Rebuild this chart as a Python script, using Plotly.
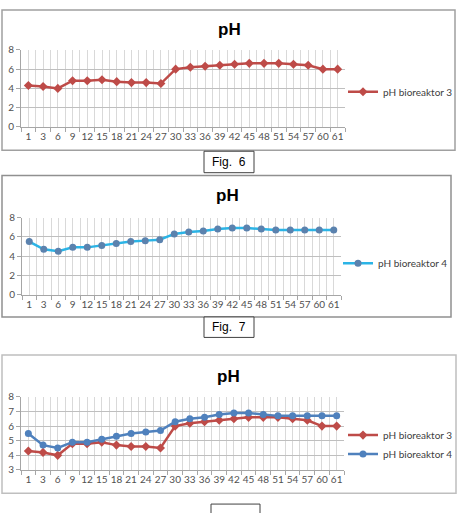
import plotly.graph_objects as go

days = ["1", "3", "6", "9", "12", "15", "18", "21", "24", "27", "30", "33",
        "36", "39", "42", "45", "48", "51", "54", "57", "60", "61"]
ph_bio3 = [4.3, 4.2, 4.0, 4.8, 4.8, 4.9, 4.7, 4.6, 4.6, 4.5, 6.0, 6.2,
           6.3, 6.4, 6.5, 6.6, 6.6, 6.6, 6.5, 6.4, 6.0, 6.0]
ph_bio4 = [5.5, 4.7, 4.5, 4.9, 4.9, 5.1, 5.3, 5.5, 5.6, 5.7, 6.3, 6.5,
           6.6, 6.8, 6.9, 6.9, 6.8, 6.7, 6.7, 6.7, 6.7, 6.7]
name3 = "pH bioreaktor 3"
name4 = "pH bioreaktor 4"
captions = ["Fig.  6", "Fig.  7", ""]

W, H = 459, 513
def px(x):
    return x / W
def py(y):
    return 1 - y / H

RED = "#BE4B48"
BLUE = "#4F81BD"
CYAN = "#2BB4E6"
idx = list(range(len(days)))

fig = go.Figure()
fig.add_trace(go.Scatter(x=idx, y=ph_bio3, name=name3, mode="lines+markers",
                         line=dict(color=RED, width=2.5),
                         marker=dict(symbol="diamond", size=7, color=RED),
                         xaxis="x", yaxis="y", legend="legend"))
fig.add_trace(go.Scatter(x=idx, y=ph_bio4, name=name4, mode="lines+markers",
                         line=dict(color=CYAN, width=2.5),
                         marker=dict(symbol="circle", size=7, color="#5B82AE"),
                         xaxis="x2", yaxis="y2", legend="legend2"))
fig.add_trace(go.Scatter(x=idx, y=ph_bio3, name=name3, mode="lines+markers",
                         line=dict(color=RED, width=2.5),
                         marker=dict(symbol="diamond", size=7, color=RED),
                         xaxis="x3", yaxis="y3", legend="legend3"))
fig.add_trace(go.Scatter(x=idx, y=ph_bio4, name=name4, mode="lines+markers",
                         line=dict(color=BLUE, width=2.5),
                         marker=dict(symbol="circle", size=7, color=BLUE),
                         xaxis="x3", yaxis="y3", legend="legend3"))

tickfont = dict(family="Lato, Open Sans, sans-serif", size=10, color="#505050")
bounds = [i - 0.5 for i in range(len(days) + 1)]

def xax(x0, x1, anchor):
    return dict(domain=[px(x0), px(x1)], anchor=anchor, range=[-0.5, len(days) - 0.5],
                tickmode="array", tickvals=idx, ticktext=days, tickfont=tickfont,
                showgrid=True, gridcolor="#D9D9D9", gridwidth=1,
                showline=True, linecolor="#A6A6A6", linewidth=1,
                ticks="", zeroline=False,
                minor=dict(tickmode="array", tickvals=bounds, showgrid=True,
                           gridcolor="#D9D9D9", gridwidth=1, ticks="outside",
                           ticklen=4, tickcolor="#A6A6A6"))

def yax(y0, y1, anchor, rng, dt):
    return dict(domain=[py(y1), py(y0)], anchor=anchor, range=rng, dtick=dt,
                tickfont=tickfont, showgrid=True, gridcolor="#BFBFBF", gridwidth=1,
                showline=True, linecolor="#A6A6A6", linewidth=1,
                ticks="outside", ticklen=4, tickcolor="#A6A6A6", zeroline=False)

legfont = dict(family="Lato, Open Sans, sans-serif", size=10, color="#404040")

fig.update_layout(
    width=W, height=H, margin=dict(l=0, r=0, t=0, b=0),
    paper_bgcolor="white", plot_bgcolor="white",
    showlegend=True,
    xaxis=xax(21, 345, "y"), yaxis=yax(44, 123, "x", [0, 8], 2),
    xaxis2=xax(22, 341, "y2"), yaxis2=yax(216, 295, "x2", [0, 8], 2),
    xaxis3=xax(21, 344, "y3"), yaxis3=yax(400, 475, "x3", [3, 8], 1),
    legend=dict(x=px(343), y=py(87), xanchor="left", yanchor="middle",
                font=legfont, bgcolor="rgba(0,0,0,0)", itemwidth=30),
    legend2=dict(x=px(338), y=py(263), xanchor="left", yanchor="middle",
                 font=legfont, bgcolor="rgba(0,0,0,0)", itemwidth=30),
    legend3=dict(x=px(343), y=py(449), xanchor="left", yanchor="middle",
                 font=legfont, bgcolor="rgba(0,0,0,0)", itemwidth=30,
                 tracegroupgap=0),
)

shapes = []
# chart frames
for (x0, y0, x1, y1, c) in [(2, 3, 455, 147, "#A0A0A0"), (2, 173, 451, 318, "#909090"),
                            (2, 357, 456, 499, "#BFBFBF")]:
    shapes.append(dict(type="rect", xref="paper", yref="paper",
                       x0=px(x0), x1=px(x1), y0=py(y1), y1=py(y0),
                       line=dict(color=c, width=1.5), fillcolor="rgba(0,0,0,0)",
                       layer="below"))
# caption boxes
boxes = [(204, 148, 254, 170), (204, 318, 254, 339), (211, 510, 260, 530)]
for (x0, y0, x1, y1) in boxes:
    shapes.append(dict(type="rect", xref="paper", yref="paper",
                       x0=px(x0), x1=px(x1), y0=py(y1), y1=py(y0),
                       line=dict(color="#404040", width=1), fillcolor="white"))
fig.update_layout(shapes=shapes)

ann = []
for (cx, cy) in [(229, 23), (227, 193), (228, 379)]:
    ann.append(dict(text="<b>pH</b>", x=px(cx), y=py(cy), xref="paper", yref="paper",
                    showarrow=False, xanchor="center", yanchor="middle",
                    font=dict(family="Liberation Sans, Arial, sans-serif", size=17,
                              color="black")))
for (x0, y0, x1, y1), cap in zip(boxes, captions):
    if cap:
        ann.append(dict(text=cap, x=px((x0 + x1) / 2), y=py((y0 + y1) / 2),
                        xref="paper", yref="paper", showarrow=False,
                        xanchor="center", yanchor="middle",
                        font=dict(family="Liberation Sans, Arial, sans-serif",
                                  size=12, color="black")))
fig.update_layout(annotations=ann)

fig.write_html("out.html")
